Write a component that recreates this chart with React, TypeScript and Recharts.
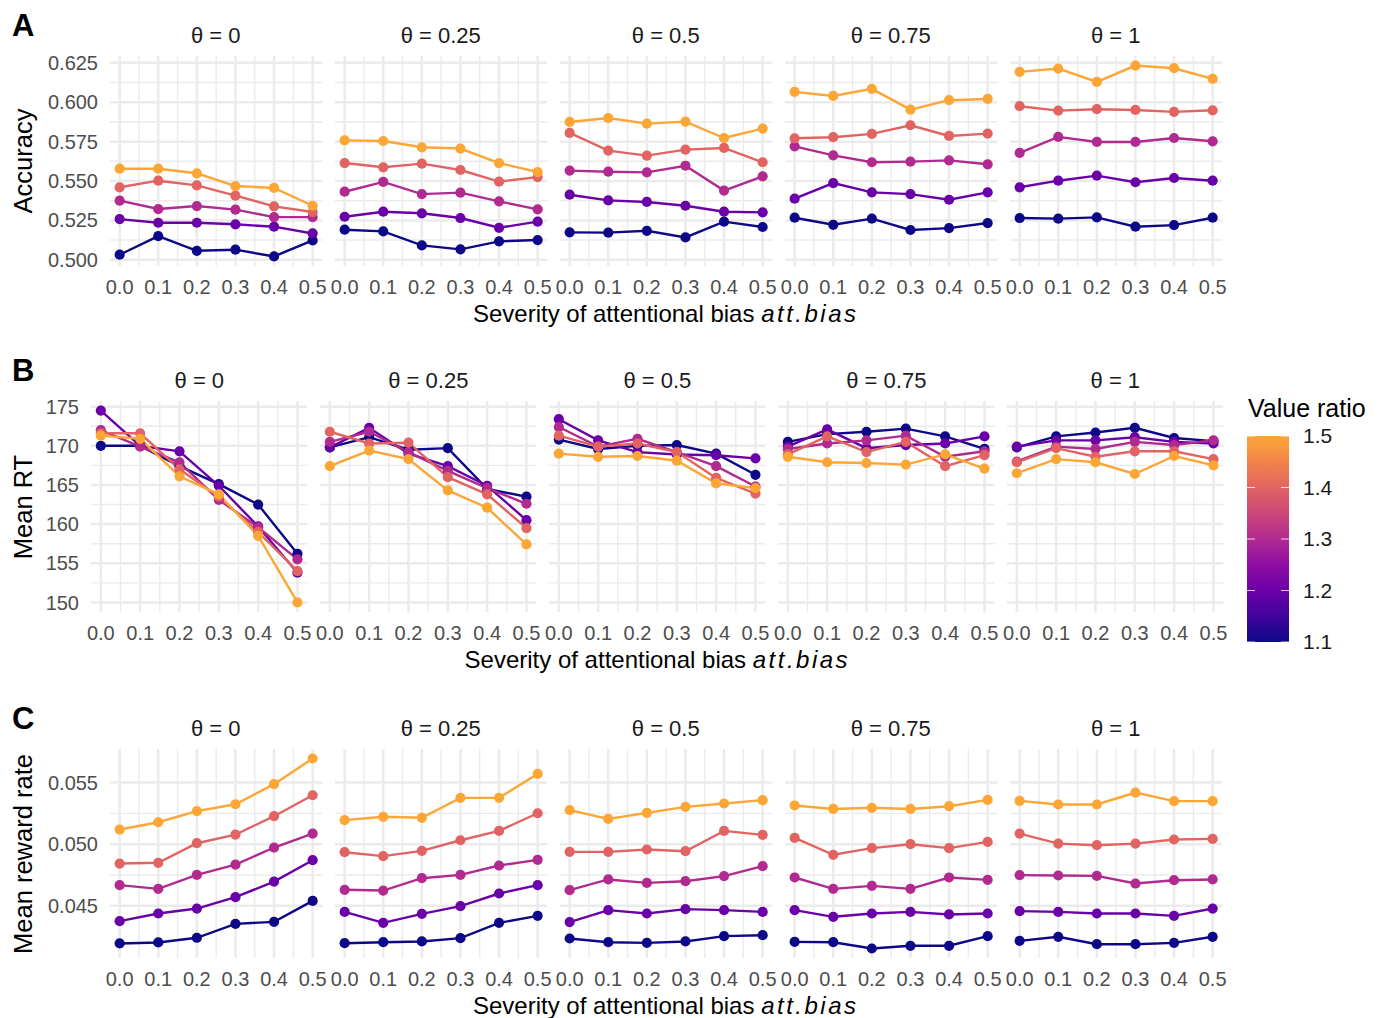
import React from 'react';
import { LineChart, Line, XAxis, YAxis, CartesianGrid } from 'recharts';

// x values (severity of attentional bias) and facet / colour levels
const attBias = [0, 0.1, 0.2, 0.3, 0.4, 0.5];
const thetaLabels = ['0', '0.25', '0.5', '0.75', '1'];
const valueRatios = [1.1, 1.2, 1.3, 1.4, 1.5];
const ratioColors = ['#0D0887', '#6A00A8', '#B12A90', '#E16462', '#FCA636'];

// A: accuracy, one array per theta, rows = value ratio 1.1 .. 1.5
const accT0 = [
  [0.5032, 0.515, 0.5057, 0.5064, 0.5021, 0.5123],
  [0.5258, 0.5235, 0.5235, 0.5225, 0.521, 0.5167],
  [0.5375, 0.5322, 0.5341, 0.5318, 0.5271, 0.5271],
  [0.546, 0.5502, 0.5472, 0.5407, 0.5339, 0.5303],
  [0.5578, 0.5578, 0.5549, 0.5468, 0.5456, 0.5343],
];
const accT025 = [
  [0.5191, 0.518, 0.5091, 0.5066, 0.5117, 0.5125],
  [0.5273, 0.5305, 0.5295, 0.5265, 0.5203, 0.5242],
  [0.5432, 0.5494, 0.5417, 0.5426, 0.5371, 0.532],
  [0.5614, 0.5587, 0.561, 0.557, 0.5496, 0.5525],
  [0.5758, 0.5754, 0.5714, 0.5706, 0.5614, 0.5557],
];
const accT05 = [
  [0.5174, 0.5172, 0.5184, 0.5142, 0.5242, 0.5208],
  [0.5413, 0.5377, 0.5367, 0.5343, 0.5305, 0.5301],
  [0.5566, 0.5559, 0.5555, 0.5597, 0.5439, 0.553],
  [0.5805, 0.5693, 0.5661, 0.5699, 0.571, 0.5619],
  [0.5875, 0.59, 0.5864, 0.5877, 0.5773, 0.5833],
];
const accT075 = [
  [0.5267, 0.5222, 0.5261, 0.5189, 0.5201, 0.5233],
  [0.5388, 0.5487, 0.5428, 0.5417, 0.5381, 0.5428],
  [0.572, 0.5663, 0.5619, 0.5623, 0.5631, 0.5606],
  [0.5771, 0.5778, 0.5799, 0.5854, 0.5786, 0.5801],
  [0.6066, 0.604, 0.6085, 0.5953, 0.6013, 0.6021],
];
const accT1 = [
  [0.5265, 0.5261, 0.5269, 0.521, 0.522, 0.5267],
  [0.546, 0.5502, 0.5534, 0.5492, 0.5519, 0.5502],
  [0.5678, 0.578, 0.5748, 0.5748, 0.5773, 0.5752],
  [0.5975, 0.5947, 0.5956, 0.5951, 0.5939, 0.5949],
  [0.6193, 0.6214, 0.6129, 0.6233, 0.6216, 0.6148],
];

// B: mean RT
const rtT0 = [
  [170.0, 170.0, 167.4, 165.1, 162.5, 156.2],
  [174.5, 170.0, 169.3, 164.9, 159.7, 153.8],
  [172.0, 169.9, 167.9, 163.1, 159.6, 155.5],
  [171.6, 171.6, 167.0, 163.5, 159.0, 154.0],
  [171.3, 170.9, 166.1, 163.8, 158.5, 150.0],
];
const rtT025 = [
  [169.8, 171.1, 169.5, 169.7, 164.5, 163.5],
  [169.8, 172.3, 169.0, 167.4, 164.9, 160.5],
  [170.5, 171.8, 169.2, 166.8, 164.6, 162.6],
  [171.8, 170.3, 170.4, 166.0, 163.8, 159.5],
  [167.4, 169.4, 168.3, 164.3, 162.1, 157.4],
];
const rtT05 = [
  [170.8, 169.6, 170.0, 170.1, 169.0, 166.3],
  [173.4, 170.7, 169.2, 168.9, 168.8, 168.4],
  [172.4, 169.9, 170.9, 169.2, 167.4, 164.8],
  [171.3, 169.9, 170.3, 169.2, 165.9, 163.9],
  [169.0, 168.6, 168.7, 168.1, 165.2, 164.6],
];
const rtT075 = [
  [170.5, 171.5, 171.8, 172.2, 171.2, 169.6],
  [169.9, 172.1, 169.7, 170.1, 170.3, 171.2],
  [169.6, 170.3, 170.7, 171.3, 168.6, 169.3],
  [168.9, 171.2, 169.2, 170.5, 167.4, 168.8],
  [168.6, 167.9, 167.8, 167.6, 168.9, 167.1],
];
const rtT1 = [
  [169.8, 171.2, 171.7, 172.3, 171.0, 170.6],
  [169.9, 170.7, 170.7, 171.1, 170.5, 170.3],
  [168.0, 169.9, 169.6, 170.5, 170.1, 170.7],
  [167.9, 169.7, 168.6, 169.3, 169.3, 168.3],
  [166.5, 168.3, 167.9, 166.4, 168.7, 167.5],
];

// C: mean reward rate
const rrT0 = [
  [0.04195, 0.04203, 0.04241, 0.04354, 0.0437, 0.0454],
  [0.04376, 0.04438, 0.04478, 0.0457, 0.04697, 0.0487],
  [0.04668, 0.04638, 0.04751, 0.04835, 0.04973, 0.05086],
  [0.04843, 0.04849, 0.05008, 0.05078, 0.05227, 0.05397],
  [0.05119, 0.05178, 0.05268, 0.05324, 0.05487, 0.05695],
];
const rrT025 = [
  [0.04197, 0.04205, 0.04211, 0.04238, 0.04362, 0.04419],
  [0.04451, 0.04362, 0.04435, 0.04497, 0.046, 0.04668],
  [0.0463, 0.04624, 0.04724, 0.04751, 0.04827, 0.04873],
  [0.04935, 0.04903, 0.04946, 0.05032, 0.05108, 0.05251],
  [0.05195, 0.05222, 0.05214, 0.05376, 0.05376, 0.0557],
];
const rrT05 = [
  [0.04235, 0.04205, 0.042, 0.04211, 0.04254, 0.04262],
  [0.04368, 0.04465, 0.04438, 0.04473, 0.04465, 0.04451],
  [0.04627, 0.04714, 0.04686, 0.047, 0.04741, 0.04822],
  [0.04938, 0.04938, 0.04957, 0.04943, 0.05108, 0.05076],
  [0.05276, 0.05205, 0.05254, 0.05303, 0.0533, 0.05357],
];
const rrT075 = [
  [0.04208, 0.04205, 0.04154, 0.04176, 0.04176, 0.04254],
  [0.04465, 0.04411, 0.04438, 0.04451, 0.0443, 0.04438],
  [0.0473, 0.04638, 0.04662, 0.04638, 0.0473, 0.04711],
  [0.05051, 0.04914, 0.04968, 0.05, 0.04968, 0.05019],
  [0.05314, 0.05286, 0.05295, 0.05286, 0.05308, 0.05359],
];
const rrT1 = [
  [0.04216, 0.04249, 0.04189, 0.04189, 0.042, 0.04249],
  [0.04457, 0.04451, 0.04438, 0.04438, 0.04419, 0.04478],
  [0.04749, 0.04746, 0.04743, 0.04681, 0.04708, 0.04714],
  [0.05086, 0.05005, 0.04992, 0.05005, 0.05038, 0.05043],
  [0.05351, 0.05322, 0.05322, 0.05419, 0.05349, 0.05349],
];

const accTicks = [0.5, 0.525, 0.55, 0.575, 0.6, 0.625];
const rtTicks = [150, 155, 160, 165, 170, 175];
const rrTicks = [0.045, 0.05, 0.055];

const FONT = '"Liberation Sans", Arial, Helvetica, sans-serif';
const Y_AXIS_W = 80;
const X_AXIS_H = 40;
const GRID = '#EBEBEB';

const midpoints = (v: number[]) => v.slice(1).map((b, i) => (b + v[i]) / 2);

// ggplot-style 5% expansion
function expandRange(vals: number[]): [number, number] {
  const lo = Math.min(...vals);
  const hi = Math.max(...vals);
  const pad = (hi - lo) * 0.05;
  return [lo - pad, hi + pad];
}

function toRows(series: number[][]) {
  return attBias.map((x, i) => {
    const row: Record<string, number> = { x };
    series.forEach((s, k) => {
      row['r' + k] = s[i];
    });
    return row;
  });
}

const xDomain = expandRange(attBias);
const xMinor = midpoints(attBias);

type RowSpec = {
  tag: string;
  facets: number[][][];
  ticks: number[];
  fmt: (v: number) => string;
  title: string;
  left: number;
  panelW: number;
  step: number;
  top: number;
  panelH: number;
};

const rows: RowSpec[] = [
  {
    tag: 'A', facets: [accT0, accT025, accT05, accT075, accT1], ticks: accTicks,
    fmt: (v) => v.toFixed(3), title: 'Accuracy',
    left: 109.6, panelW: 212.3, step: 225, top: 56, panelH: 210,
  },
  {
    tag: 'B', facets: [rtT0, rtT025, rtT05, rtT075, rtT1], ticks: rtTicks,
    fmt: (v) => String(v), title: 'Mean RT',
    left: 91.2, panelW: 216.3, step: 229, top: 401, panelH: 211,
  },
  {
    tag: 'C', facets: [rrT0, rrT025, rrT05, rrT075, rrT1], ticks: rrTicks,
    fmt: (v) => v.toFixed(3), title: 'Mean reward rate',
    left: 109.6, panelW: 212.3, step: 225, top: 749, panelH: 209,
  },
];

function Facet({ series, domain, ticks, fmt, showY, w, h }: {
  series: number[][]; domain: [number, number]; ticks: number[];
  fmt: (v: number) => string; showY: boolean; w: number; h: number;
}) {
  const data = toRows(series);
  return (
    <LineChart
      width={w + (showY ? Y_AXIS_W : 0)}
      height={h + X_AXIS_H}
      data={data}
      margin={{ top: 0, right: 0, bottom: 0, left: 0 }}
    >
      <CartesianGrid stroke={GRID} strokeWidth={1.4} horizontalValues={midpoints(ticks)} verticalValues={xMinor} />
      <CartesianGrid stroke={GRID} strokeWidth={2.5} horizontalValues={ticks} verticalValues={attBias} />
      <XAxis
        dataKey="x" type="number" domain={xDomain} ticks={attBias} interval={0}
        tickFormatter={(v: number) => v.toFixed(1)} tickLine={false} axisLine={false}
        height={X_AXIS_H} tickMargin={8} tick={{ fontSize: 20, fill: '#4D4D4D' }}
        allowDataOverflow
      />
      <YAxis
        type="number" domain={domain} ticks={ticks} interval={0} hide={!showY}
        width={Y_AXIS_W} tickFormatter={fmt} tickLine={false} axisLine={false}
        tickMargin={6} tick={{ fontSize: 20, fill: '#4D4D4D' }} allowDataOverflow
      />
      {series.map((_, k) => (
        <Line
          key={k}
          dataKey={'r' + k}
          stroke={ratioColors[k]}
          strokeWidth={2.4}
          dot={{ r: 5.1, fill: ratioColors[k], stroke: 'none' }}
          isAnimationActive={false}
        />
      ))}
    </LineChart>
  );
}

function Row({ spec }: { spec: RowSpec }) {
  const domain = expandRange(spec.facets.flat(2));
  const totalW = spec.step * 4 + spec.panelW;
  const centerX = spec.left + totalW / 2;
  return (
    <>
      <div style={{ position: 'absolute', left: 12, top: spec.top - 46, fontSize: 31, fontWeight: 'bold', lineHeight: 1 }}>
        {spec.tag}
      </div>
      {spec.facets.map((series, i) => {
        const px = spec.left + i * spec.step;
        const showY = i === 0;
        return (
          <React.Fragment key={i}>
            <div style={{
              position: 'absolute', left: px, width: spec.panelW, top: spec.top - 31,
              textAlign: 'center', fontSize: 22, color: '#1A1A1A', lineHeight: 1,
            }}>
              {'θ = ' + thetaLabels[i]}
            </div>
            <div style={{ position: 'absolute', left: px - (showY ? Y_AXIS_W : 0), top: spec.top }}>
              <Facet series={series} domain={domain} ticks={spec.ticks} fmt={spec.fmt}
                showY={showY} w={spec.panelW} h={spec.panelH} />
            </div>
          </React.Fragment>
        );
      })}
      <div style={{
        position: 'absolute', left: centerX, top: spec.top + spec.panelH + 36,
        transform: 'translateX(-50%)', fontSize: 24, whiteSpace: 'nowrap', lineHeight: 1,
      }}>
        Severity of attentional bias <i style={{ letterSpacing: 2.5 }}>att.bias</i>
      </div>
      <div style={{
        position: 'absolute', left: 24, top: spec.top + spec.panelH / 2,
        transform: 'translate(-50%, -50%) rotate(-90deg)', fontSize: 25.5,
        whiteSpace: 'nowrap', lineHeight: 1,
      }}>
        {spec.title}
      </div>
    </>
  );
}

function ColourBar() {
  const barX = 1247;
  const barW = 42;
  const barTop = 436;
  const barBottom = 642;
  const lo = valueRatios[0];
  const hi = valueRatios[valueRatios.length - 1];
  const yOf = (v: number) => barBottom - ((v - lo) / (hi - lo)) * (barBottom - barTop);
  const stops = ['#0D0887', '#41049D', '#6A00A8', '#8F0DA4', '#B12A90', '#CC4778', '#E16462', '#F2844B', '#FCA636'];
  return (
    <>
      <div style={{ position: 'absolute', left: 1248, top: 396, fontSize: 25, whiteSpace: 'nowrap', lineHeight: 1 }}>
        Value ratio
      </div>
      <svg style={{ position: 'absolute', left: 0, top: 0 }} width={1384} height={1018}>
        <defs>
          <linearGradient id="plasma" x1="0" y1="1" x2="0" y2="0">
            {stops.map((c, i) => (
              <stop key={i} offset={i / (stops.length - 1)} stopColor={c} />
            ))}
          </linearGradient>
        </defs>
        <rect x={barX} y={barTop} width={barW} height={barBottom - barTop} fill="url(#plasma)" />
        {valueRatios.map((v) => (
          <g key={v}>
            <line x1={barX} x2={barX + 8} y1={yOf(v)} y2={yOf(v)} stroke="#fff" strokeWidth={1} opacity={0.8} />
            <line x1={barX + barW - 8} x2={barX + barW} y1={yOf(v)} y2={yOf(v)} stroke="#fff" strokeWidth={1} opacity={0.8} />
            <text x={1303} y={yOf(v)} dy="0.35em" fontSize={21} fill="#1A1A1A" fontFamily={FONT}>
              {v.toFixed(1)}
            </text>
          </g>
        ))}
      </svg>
    </>
  );
}

export default function App() {
  return (
    <div style={{
      position: 'absolute', left: 0, top: 0, width: 1384, height: 1018,
      background: '#fff', fontFamily: FONT, color: '#000', overflow: 'hidden',
    }}>
      <style>{'.recharts-surface{overflow:visible}.recharts-wrapper{overflow:visible}'}</style>
      <ColourBar />
      {rows.map((r) => (
        <Row key={r.tag} spec={r} />
      ))}
    </div>
  );
}
